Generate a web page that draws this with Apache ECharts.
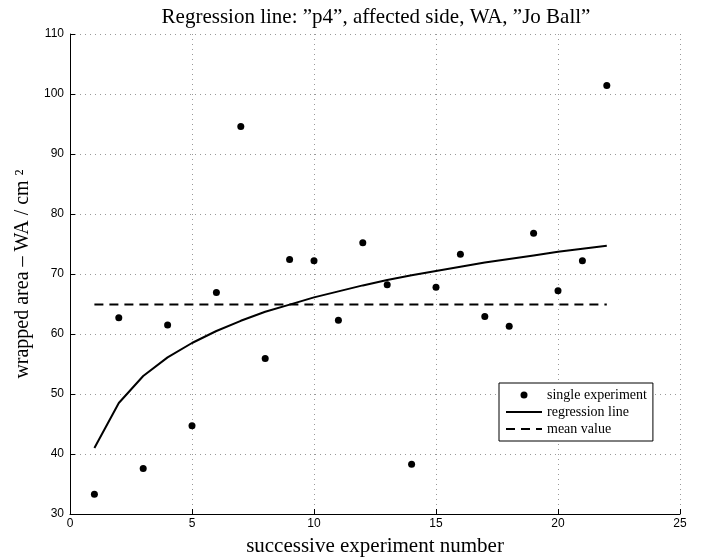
<!DOCTYPE html>
<html>
<head>
<meta charset="utf-8">
<script src="https://cdn.jsdelivr.net/npm/echarts@6/dist/echarts.min.js"></script>
<style>
  html, body { margin: 0; padding: 0; background: #fff; }
  #main { width: 704px; height: 559px; }
</style>
</head>
<body>
<div id="main"></div>
<script>
// experiment numbers
var experiments = [1, 2, 3, 4, 5, 6, 7, 8, 9, 10, 11, 12, 13, 14, 15, 16, 17, 18, 19, 20, 21, 22];
// measured wrapped area per experiment
var wrappedArea = [33.3, 62.7, 37.6, 61.5, 44.7, 66.9, 94.6, 55.9, 72.4, 72.2, 62.3,
                   75.2, 68.2, 38.3, 67.8, 73.3, 62.9, 61.3, 76.8, 67.2, 72.2, 101.4];
// regression line
var regression = [41.0, 48.5, 53.0, 56.1, 58.5, 60.5, 62.2, 63.7, 64.9, 66.1, 67.1,
                  68.1, 69.0, 69.8, 70.5, 71.2, 71.9, 72.5, 73.1, 73.7, 74.2, 74.7];
var meanValue = 64.9;
var seriesNames = ['single experiment', 'regression line', 'mean value'];

function pairs(ys) {
    return experiments.map(function (x, i) { return [x, ys[i]]; });
}
var meanLine = [[experiments[0], meanValue], [experiments[experiments.length - 1], meanValue]];

var serif = '"Liberation Serif", "DejaVu Serif", serif';
var sans = '"Liberation Sans", Arial, sans-serif';

// hide the dot echarts puts in the middle of line legend icons
var noDot = { color: 'rgba(0,0,0,0)', borderWidth: 0, opacity: 0 };

var option = {
    animation: false,
    title: {
        text: 'Regression line: \u201dp4\u201d, affected side, WA, \u201dJo Ball\u201d',
        left: 371,
        textAlign: 'center',
        top: 2,
        textStyle: { fontFamily: serif, fontSize: 21, fontWeight: 'normal', color: '#000' }
    },
    grid: { left: 70, right: 24, top: 34, bottom: 45, outerBoundsMode: 'none', containLabel: false },
    legend: {
        data: [
            { name: seriesNames[0], icon: 'circle' },
            { name: seriesNames[1], itemStyle: noDot },
            { name: seriesNames[2], itemStyle: noDot }
        ],
        orient: 'vertical',
        left: 499,
        top: 383,
        itemWidth: 36,
        itemHeight: 7,
        itemGap: 3,
        padding: [5, 6, 5, 6],
        borderColor: '#000',
        borderWidth: 1,
        borderRadius: 0,
        backgroundColor: '#fff',
        textStyle: { fontFamily: serif, fontSize: 14, color: '#000' }
    },
    xAxis: {
        type: 'value',
        min: 0, max: 25, interval: 5,
        name: 'successive experiment number',
        nameLocation: 'middle',
        nameGap: 22,
        nameTextStyle: { fontFamily: serif, fontSize: 21, color: '#000' },
        axisLine: { lineStyle: { color: '#000', width: 1 } },
        axisTick: { inside: true, length: 5, lineStyle: { color: '#000' } },
        axisLabel: { fontFamily: sans, fontSize: 12, color: '#000', margin: 4 },
        splitLine: { show: true, lineStyle: { color: '#999', type: [1, 4], width: 1 } }
    },
    yAxis: {
        type: 'value',
        min: 30, max: 110, interval: 10,
        name: 'wrapped area \u2013 WA / cm \u00b2',
        nameLocation: 'middle',
        nameGap: 34,
        nameTextStyle: { fontFamily: serif, fontSize: 20, color: '#000' },
        axisLine: { show: true, lineStyle: { color: '#000', width: 1 } },
        axisTick: { show: true, inside: true, length: 5, lineStyle: { color: '#000' } },
        axisLabel: { fontFamily: sans, fontSize: 12, color: '#000', margin: 6 },
        splitLine: { show: true, lineStyle: { color: '#999', type: [1, 4], width: 1 } }
    },
    series: [
        {
            name: seriesNames[0],
            type: 'scatter',
            data: pairs(wrappedArea),
            symbol: 'circle',
            symbolSize: 7,
            itemStyle: { color: '#000', opacity: 1 },
            z: 4
        },
        {
            name: seriesNames[1],
            type: 'line',
            data: pairs(regression),
            symbol: 'none',
            lineStyle: { color: '#000', width: 2 },
            itemStyle: { color: '#000' },
            z: 3
        },
        {
            name: seriesNames[2],
            type: 'line',
            data: meanLine,
            symbol: 'none',
            lineStyle: { color: '#000', width: 2, type: [9, 6] },
            itemStyle: { color: '#000' },
            z: 3
        }
    ]
};

var myChart = echarts.init(document.getElementById('main'));
myChart.setOption(option);
</script>
</body>
</html>
